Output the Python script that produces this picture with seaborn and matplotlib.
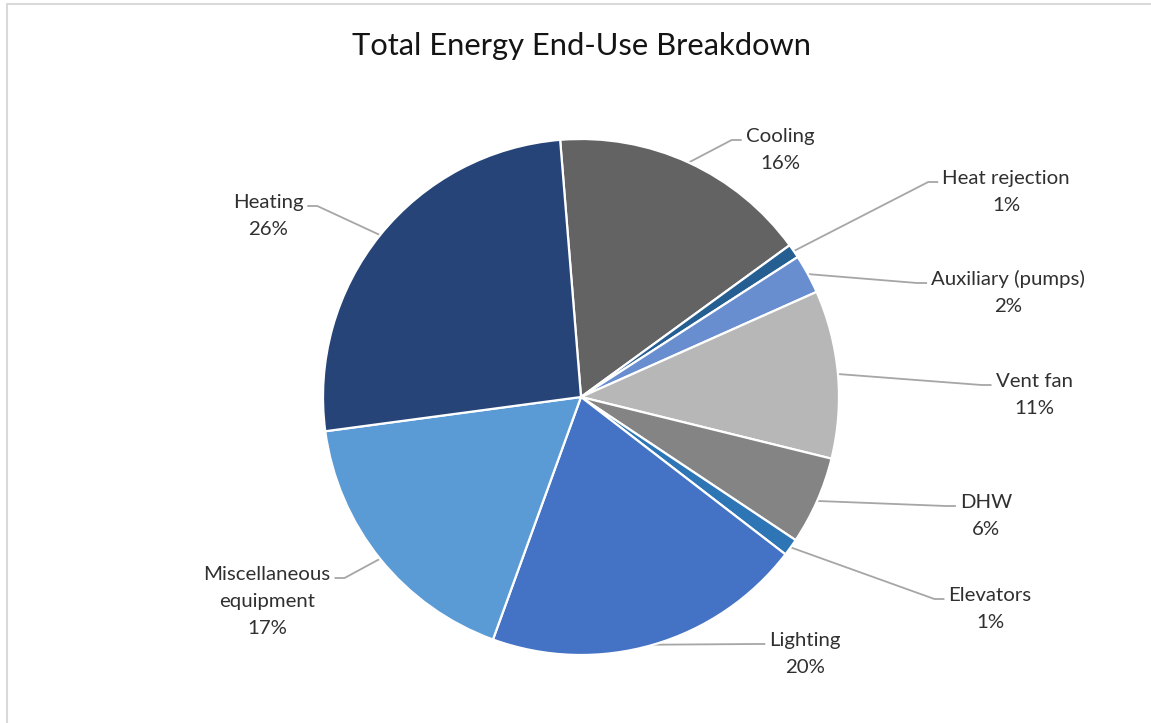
import matplotlib
matplotlib.use("Agg")
import numpy as np
import matplotlib.pyplot as plt
import seaborn as sns
from matplotlib.patches import Rectangle

# Data (clockwise, starting just left of 12 o'clock)
categories = ["Cooling", "Heat rejection", "Auxiliary (pumps)", "Vent fan", "DHW",
              "Elevators", "Lighting", "Miscellaneous\nequipment", "Heating"]
shares = [16.28, 0.88, 2.45, 10.52, 5.52, 1.08, 20.1, 17.34, 25.83]
colors = ["#636363", "#255E91", "#698ED0", "#B7B7B7", "#848484",
          "#2E75B6", "#4472C4", "#5B9BD5", "#264478"]

# Label layout in pixels: text centre x, first baseline y
label_pos = [(780, 142), (1006, 184), (1008, 285), (1034, 387), (986, 508),
             (990, 601), (805, 646), (267, 580), (268, 208)]

sns.set_theme(style="white")
plt.rcParams['font.family'] = ['Lato', 'DejaVu Sans']

W, H = 1151, 723
CX, CY, R = 581, 397, 258
fig = plt.figure(figsize=(W / 100, H / 100), dpi=100)
fig.patch.set_facecolor("white")
ax = fig.add_axes([0, 0, 1, 1])


def to_data(px, py):
    return (px - CX) / R, (CY - py) / R


wedges, _ = ax.pie(shares, colors=colors, startangle=94.64, counterclock=False,
                   wedgeprops=dict(edgecolor="white", linewidth=1.6))
ax.set_xlim(-CX / R, (W - CX) / R)
ax.set_ylim((CY - H) / R, CY / R)
ax.set_aspect("auto")
ax.axis("off")

# chart border (Excel chart area)
fig.patches.append(Rectangle((7 / W, -0.1), 1.2, 1 - 4 / H + 0.1, transform=fig.transFigure,
                             fill=False, edgecolor="#D9D9D9", linewidth=1.5))

fig.text(581 / W, 1 - 55 / H, "Total Energy End-Use Breakdown", ha="center", va="baseline",
         fontsize=22.2, color="#141414")

step = 27
fig.canvas.draw()
renderer = fig.canvas.get_renderer()
for w, cat, val, (lx, ly) in zip(wedges, categories, shares, label_pos):
    lines = cat.split("\n") + [f"{val:.0f}%"]
    left, right = 1e9, -1e9
    for i, line in enumerate(lines):
        x, y = to_data(lx, ly + i * step)
        t = ax.text(x, y, line, ha="center", va="baseline", fontsize=14.7, color="#303030")
        bb = t.get_window_extent(renderer)
        left, right = min(left, bb.x0), max(right, bb.x1)
    # leader line: wedge mid-angle on the rim -> elbow -> label edge
    mid = np.deg2rad((w.theta1 + w.theta2) / 2)
    sx, sy = np.cos(mid), np.sin(mid)
    if lx > CX:
        ex = left - 4
        kx = ex - 10
    else:
        ex = right + 4
        kx = ex + 10
    ey = ly - 2
    p_end = to_data(ex, ey)
    p_knee = to_data(kx, ey)
    ax.plot([sx, p_knee[0], p_end[0]], [sy, p_knee[1], p_end[1]],
            color="#A6A6A6", linewidth=1.3, solid_capstyle="butt", zorder=0.5)

fig.savefig("out.png", dpi=100)
